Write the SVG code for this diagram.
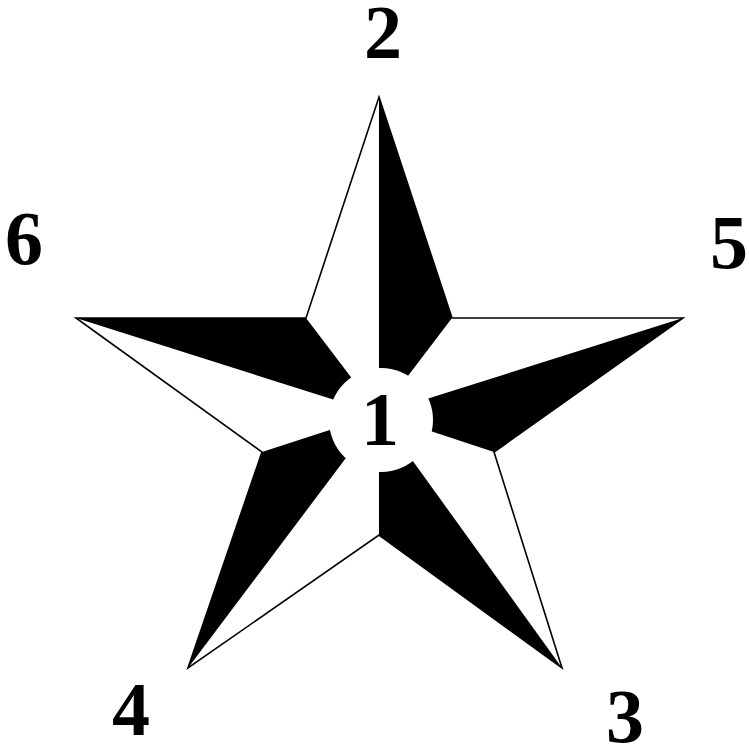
<svg xmlns="http://www.w3.org/2000/svg" width="749" height="747" viewBox="0 0 749 747">
<style>
.lbl{font-family:"Liberation Serif","Times New Roman",serif;font-weight:bold;font-size:76px;fill:#000;text-anchor:middle}
.dark{fill:#000}
</style>
<rect width="749" height="747" fill="#fff"/>
<g id="star">
<polygon points="379,97 452,318 683,318 494,452 562,668 379,535 188,668 262,452 76,318 306,318" fill="#fff" stroke="#000" stroke-width="1.6" stroke-linejoin="miter"/>
<polygon class="dark" points="379,97 452,318 379,414"/>
<polygon class="dark" points="683,318 494,452 379,414"/>
<polygon class="dark" points="562,668 379,535 379,414"/>
<polygon class="dark" points="188,668 262,452 379,414"/>
<polygon class="dark" points="76,318 306,318 379,414"/>
</g>
<g id="node1">
<circle cx="381" cy="420" r="52" fill="#fff"/>
<text class="lbl" x="380" y="445">1</text>
</g>
<g id="node2"><text class="lbl" x="383" y="58">2</text></g>
<g id="node3"><text class="lbl" x="625" y="742">3</text></g>
<g id="node4"><text class="lbl" x="131" y="735">4</text></g>
<g id="node5"><text class="lbl" x="729" y="268">5</text></g>
<g id="node6"><text class="lbl" x="24" y="264">6</text></g>
<g id="connectors"></g>
</svg>
